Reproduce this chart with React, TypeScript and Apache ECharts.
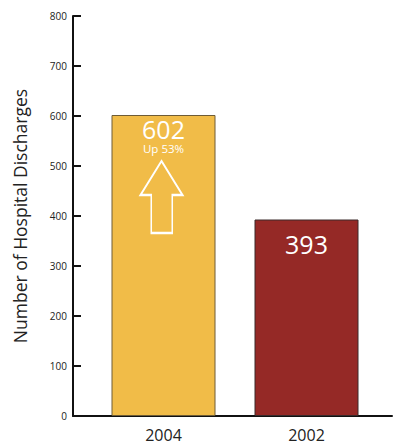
import React, { useEffect, useRef } from "react";
import * as echarts from "echarts";

const categories = ["2004", "2002"];
const values = [602, 393];
const barColors = ["#F1BC48", "#952926"];
const barBorders = ["#6e5c36", "#3b2a2a"];
const changeLabel = "Up 53%";
const arrowLevel = 438; // value level of the arrow centre
const yTicks = { min: 0, max: 800, interval: 100 };

const FONT = "'Open Sans', 'Noto Sans', sans-serif";

export default function App() {
  const ref = useRef<HTMLDivElement>(null);
  useEffect(() => {
    if (!ref.current) return;
    const chart = echarts.init(ref.current, null, { renderer: "svg" });
    chart.setOption({
      animation: false,
      textStyle: { fontFamily: FONT },
      grid: [
        { left: 92, right: 15, top: 16, bottom: 30 },
        { left: 73, right: 1, top: 16, bottom: 30 },
      ],
      xAxis: [
        {
          type: "category",
          gridIndex: 0,
          data: categories,
          axisLine: { show: false },
          axisTick: { show: false },
          axisLabel: { color: "#222", fontSize: 16, margin: 11, fontFamily: FONT },
        },
        {
          type: "value",
          gridIndex: 1,
          min: 0,
          max: 1,
          axisLine: { show: true, lineStyle: { color: "#111", width: 2 } },
          axisTick: { show: false },
          axisLabel: { show: false },
          splitLine: { show: false },
        },
      ],
      yAxis: [
        {
          type: "value",
          gridIndex: 0,
          min: yTicks.min,
          max: yTicks.max,
          interval: yTicks.interval,
          offset: 19,
          name: "Number of Hospital Discharges",
          nameLocation: "middle",
          nameGap: 44,
          nameTextStyle: { color: "#222", fontSize: 17.5, fontFamily: FONT },
          axisLine: { show: true, lineStyle: { color: "#111", width: 2 } },
          axisTick: { show: true, inside: true, length: 8, lineStyle: { color: "#111", width: 2 } },
          axisLabel: { color: "#222", fontSize: 10, margin: 6, fontFamily: FONT },
          splitLine: { show: false },
        },
        {
          type: "value",
          gridIndex: 1,
          show: false,
          min: 0,
          max: 1,
        },
      ],
      series: [
        {
          type: "bar",
          xAxisIndex: 0,
          yAxisIndex: 0,
          barWidth: 104,
          data: values.map((v, i) => ({
            value: v,
            itemStyle: { color: barColors[i], borderColor: barBorders[i], borderWidth: 1 },
            label: {
              show: true,
              position: "insideTop",
              distance: i === 0 ? 1 : 11,
              formatter: i === 0 ? `{a|${v}}\n{b|${changeLabel}}` : `{a|${v}}`,
              rich: {
                a: { color: "#fff", fontSize: 25, fontFamily: FONT, lineHeight: 26 },
                b: { color: "#fff", fontSize: 11.5, fontFamily: FONT, lineHeight: 12 },
              },
            },
          })),
          markPoint: {
            silent: true,
            symbol: "path://M20.5,0 L41,34 L31,34 L31,72 L10.5,72 L10.5,34 L0,34 Z",
            symbolSize: [42, 72],
            symbolOffset: [-2, 0],
            itemStyle: { color: "rgba(0,0,0,0)", borderColor: "#fff", borderWidth: 2 },
            label: { show: false },
            data: [{ coord: [categories[0], arrowLevel] }],
          },
        },
      ],
    });
    return () => chart.dispose();
  }, []);
  return <div ref={ref} style={{ width: 393, height: 446, position: "absolute", left: 0, top: 0 }} />;
}
